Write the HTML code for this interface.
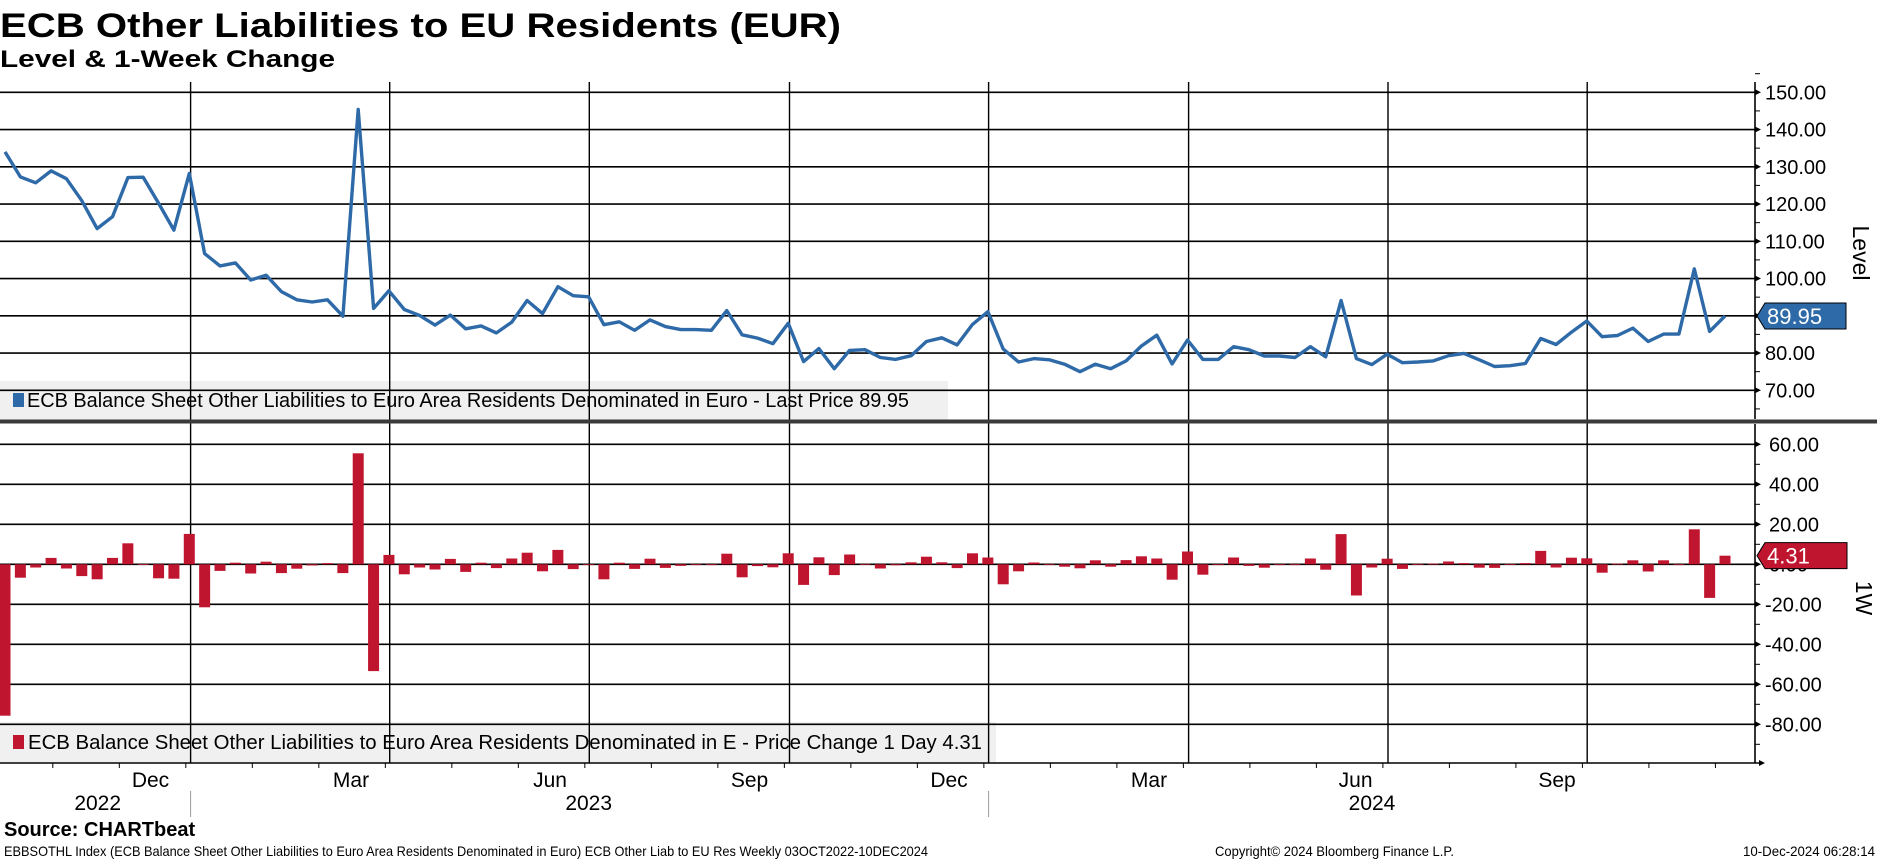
<!DOCTYPE html>
<html><head><meta charset="utf-8"><style>
html,body{margin:0;padding:0;background:#fff;}
svg{display:block;font-family:"Liberation Sans",sans-serif;}
.n{font-family:"Liberation Sans Narrow","Liberation Sans",sans-serif;}
</style></head><body>
<svg id="chart" width="1877" height="859" viewBox="0 0 1877 859">
<text x="0" y="37" font-size="34" font-weight="bold" textLength="841" lengthAdjust="spacingAndGlyphs">ECB Other Liabilities to EU Residents (EUR)</text>
<text x="0" y="67" font-size="24" font-weight="bold" textLength="335" lengthAdjust="spacingAndGlyphs">Level &amp; 1-Week Change</text>
<g id="grid"></g>
<g id="upper"></g>
<g id="lower"></g>
<g id="axes"></g>
<text x="4" y="836" font-size="20" font-weight="bold" class="n">Source: CHARTbeat</text>
<text x="4" y="856" font-size="14" class="n" textLength="924" lengthAdjust="spacingAndGlyphs">EBBSOTHL Index (ECB Balance Sheet Other Liabilities to Euro Area Residents Denominated in Euro) ECB Other Liab to EU Res  Weekly 03OCT2022-10DEC2024</text>
<text x="1215" y="856" font-size="14" class="n" textLength="239" lengthAdjust="spacingAndGlyphs">Copyright© 2024 Bloomberg Finance L.P.</text>
<text x="1743" y="856" font-size="14" class="n" textLength="132" lengthAdjust="spacingAndGlyphs">10-Dec-2024 06:28:14</text>
</svg>
<script>
const levels = [134.0,127.3,125.7,128.9,126.8,120.9,113.4,116.6,127.1,127.2,120.2,113.0,128.2,106.7,103.4,104.2,99.6,100.9,96.5,94.3,93.7,94.3,89.9,145.4,92.0,96.7,91.7,90.1,87.5,90.2,
86.5,87.3,85.4,88.3,94.1,90.6,97.8,95.4,95.1,87.6,88.4,86.1,88.9,87.1,86.3,86.3,86.1,91.4,84.9,84.0,82.5,88.0,77.7,81.2,75.8,80.7,80.9,78.8,78.3,
79.3,83.1,84.1,82.2,87.7,91.1,81.1,77.6,78.5,78.2,77.0,75.0,77.0,75.8,77.9,81.9,84.8,77.1,83.5,78.3,78.3,81.7,80.9,79.2,79.2,78.8,81.7,79.0,
94.1,78.5,76.9,79.7,77.4,77.6,77.9,79.3,79.9,78.2,76.4,76.6,77.2,83.9,82.3,85.6,88.6,84.4,84.7,86.7,83.1,85.1,85.1,102.6,85.8,89.95];
const changes = [-75.7,-6.7,-1.6,3.2,-2.1,-5.9,-7.5,3.2,10.5,0.1,-7.0,-7.2,15.2,-21.5,-3.3,0.8,-4.6,1.3,-4.4,-2.2,-0.6,0.6,-4.4,55.5,-53.4,4.7,-5.0,-1.6,-2.6,2.7,
-3.8,0.8,-1.9,2.9,5.8,-3.5,7.2,-2.4,-0.3,-7.5,0.8,-2.3,2.8,-1.8,-0.8,0,-0.2,5.3,-6.5,-0.9,-1.5,5.5,-10.3,3.5,-5.4,4.9,0.2,-2.1,-0.5,
1.0,3.8,1.0,-1.9,5.5,3.4,-10.0,-3.5,0.9,-0.3,-1.2,-2.0,2.0,-1.2,2.1,4.0,2.9,-7.7,6.4,-5.2,0,3.4,-0.8,-1.7,0,-0.4,2.9,-2.7,
15.1,-15.6,-1.6,2.8,-2.3,0.2,0.3,1.4,0.6,-1.7,-1.8,0.2,0.6,6.7,-1.6,3.3,3.0,-4.2,0.3,2.0,-3.6,2.0,0,17.5,-16.8,4.31];
const levelTicks = [150,140,130,120,110,100,90,80,70];
const changeTicks = [60,40,20,0,-20,-40,-60,-80];
const monthLabels = ["Dec","Mar","Jun","Sep","Dec","Mar","Jun","Sep"];
const yearLabels = ["2022","2023","2024"];

const NS="http://www.w3.org/2000/svg";
function mk(parent,tag,attrs,text){const e=document.createElementNS(NS,tag);for(const k in attrs)e.setAttribute(k,attrs[k]);if(text!==undefined)e.textContent=text;parent.appendChild(e);return e;}
const AX=1755, X0=5, X1=1725;
const xIdx=i=>X0+(X1-X0)*i/(levels.length-1);
const yU=v=>92.3+(150-v)*3.725;
const yL=v=>564.3-v*2.0;
const gridXs=[190.6,389.7,589.3,789.5,988.6,1188.6,1388,1587.2];
const grid=document.getElementById('grid'),up=document.getElementById('upper'),lo=document.getElementById('lower'),ax=document.getElementById('axes');

let lg=mk(grid,'rect',{x:0,y:381,width:948,height:39,fill:'#f0f0f0'});

lg=mk(grid,'rect',{x:0,y:722,width:996,height:40,fill:'#f0f0f0'});


levelTicks.forEach(v=>{const l=mk(grid,'line',{x1:0,x2:AX,y1:yU(v),y2:yU(v),stroke:'#000','stroke-width':1.6});
});
changeTicks.forEach(v=>{const l=mk(grid,'line',{x1:0,x2:AX,y1:yL(v),y2:yL(v),stroke:'#000','stroke-width':1.6});
});
gridXs.forEach(x=>{const l=mk(grid,'line',{x1:x,x2:x,y1:82,y2:763,stroke:'#000','stroke-width':1.4});
});

mk(grid,'rect',{x:13,y:393,width:11,height:14,fill:'#2e6aa8'});
let t=mk(grid,'text',{x:27,y:407,'font-size':20,class:'n',textLength:882,lengthAdjust:'spacingAndGlyphs'},'ECB Balance Sheet Other Liabilities to Euro Area Residents Denominated in Euro - Last Price 89.95');

mk(grid,'rect',{x:13,y:735,width:11,height:14,fill:'#c0152f'});
t=mk(grid,'text',{x:28,y:749,'font-size':20,class:'n',textLength:954,lengthAdjust:'spacingAndGlyphs'},'ECB Balance Sheet Other Liabilities to Euro Area Residents Denominated in E - Price Change 1 Day 4.31');


const pts=levels.map((v,i)=>xIdx(i).toFixed(1)+','+yU(v).toFixed(1)).join(' ');
const pl=mk(up,'polyline',{points:pts,fill:'none',stroke:'#2e6aa8','stroke-width':3.4,'stroke-linejoin':'round'});


changes.forEach((v,i)=>{const x=xIdx(i),y0=yL(0),y1=yL(v);
const b=mk(lo,'rect',{x:x-5.5,y:Math.min(y0,y1),width:11,height:Math.max(Math.abs(y1-y0),0.8),fill:'#c0152f'});
});

mk(ax,'rect',{x:0,y:419.5,width:1877,height:4,fill:'#3a3a3a'});
mk(ax,'line',{x1:AX,x2:AX,y1:82,y2:419,stroke:'#000','stroke-width':1.6});
mk(ax,'line',{x1:AX,x2:AX,y1:424,y2:763,stroke:'#000','stroke-width':1.6});
mk(ax,'line',{x1:0,x2:AX+6,y1:763,y2:763,stroke:'#000','stroke-width':1.6});
mk(ax,'polygon',{points:`${AX+4},760 ${AX+10},763 ${AX+4},766`,fill:'#000'});
levelTicks.forEach(v=>{const y=yU(v);
mk(ax,'polygon',{points:`${AX},${y-3} ${AX+6},${y} ${AX},${y+3}`,fill:'#000'});
mk(ax,'line',{x1:AX,x2:AX+5,y1:y+18.6,y2:y+18.6,stroke:'#000','stroke-width':1});
const tl=mk(ax,'text',{x:AX+10,y:y+7,'font-size':20},v.toFixed(2));
});
mk(ax,'line',{x1:AX,x2:AX+5,y1:yU(155),y2:yU(155),stroke:'#000','stroke-width':1});
changeTicks.forEach(v=>{const y=yL(v);
mk(ax,'polygon',{points:`${AX},${y-3} ${AX+6},${y} ${AX},${y+3}`,fill:'#000'});
mk(ax,'line',{x1:AX,x2:AX+5,y1:y+20,y2:y+20,stroke:'#000','stroke-width':1});
const tl=mk(ax,'text',{x:AX+(v<0?10:14),y:y+7,'font-size':20},v.toFixed(2));
});
t=mk(ax,'text',{x:0,y:0,'font-size':23,transform:'translate(1853,253) rotate(90)','text-anchor':'middle'},'Level');

t=mk(ax,'text',{x:0,y:0,'font-size':23,transform:'translate(1856,598) rotate(90)','text-anchor':'middle'},'1W');

const yl=yU(levels[levels.length-1]);
let tg=mk(ax,'polygon',{points:`${AX+2},${yl} ${AX+10},${yl-13} 1846,${yl-13} 1846,${yl+13} ${AX+10},${yl+13}`,fill:'#2e6aa8',stroke:'#000','stroke-width':1});

mk(ax,'text',{x:AX+12,y:yl+8,'font-size':22,fill:'#fff'},levels[levels.length-1].toFixed(2));
const yc=yL(changes[changes.length-1]);
tg=mk(ax,'polygon',{points:`${AX+2},${yc} ${AX+10},${yc-13} 1847,${yc-13} 1847,${yc+13} ${AX+10},${yc+13}`,fill:'#c0152f',stroke:'#000','stroke-width':1});

mk(ax,'text',{x:AX+12,y:yc+8,'font-size':22,fill:'#fff'},changes[changes.length-1].toFixed(2));
const mstep=(1587.2-190.6)/21;
for(let k=0;k<27;k++){const x=52.8+mstep*k; if(x>AX)break;
mk(ax,'line',{x1:x,x2:x,y1:763,y2:768,stroke:'#000','stroke-width':1});}
const monthX=[150.5,351,550,749.5,949,1149,1355.6,1557];
monthLabels.forEach((m,i)=>{const tl=mk(ax,'text',{x:monthX[i],y:787,'font-size':21,'text-anchor':'middle',class:'n'},m);
});
const yearX=[97.7,588.7,1372];
yearLabels.forEach((m,i)=>{const tl=mk(ax,'text',{x:yearX[i],y:810,'font-size':21,'text-anchor':'middle',class:'n'},m);
});
mk(ax,'line',{x1:190.6,x2:190.6,y1:791,y2:817,stroke:'#999','stroke-width':1});
mk(ax,'line',{x1:988.6,x2:988.6,y1:791,y2:817,stroke:'#999','stroke-width':1});
</script>
</body></html>
